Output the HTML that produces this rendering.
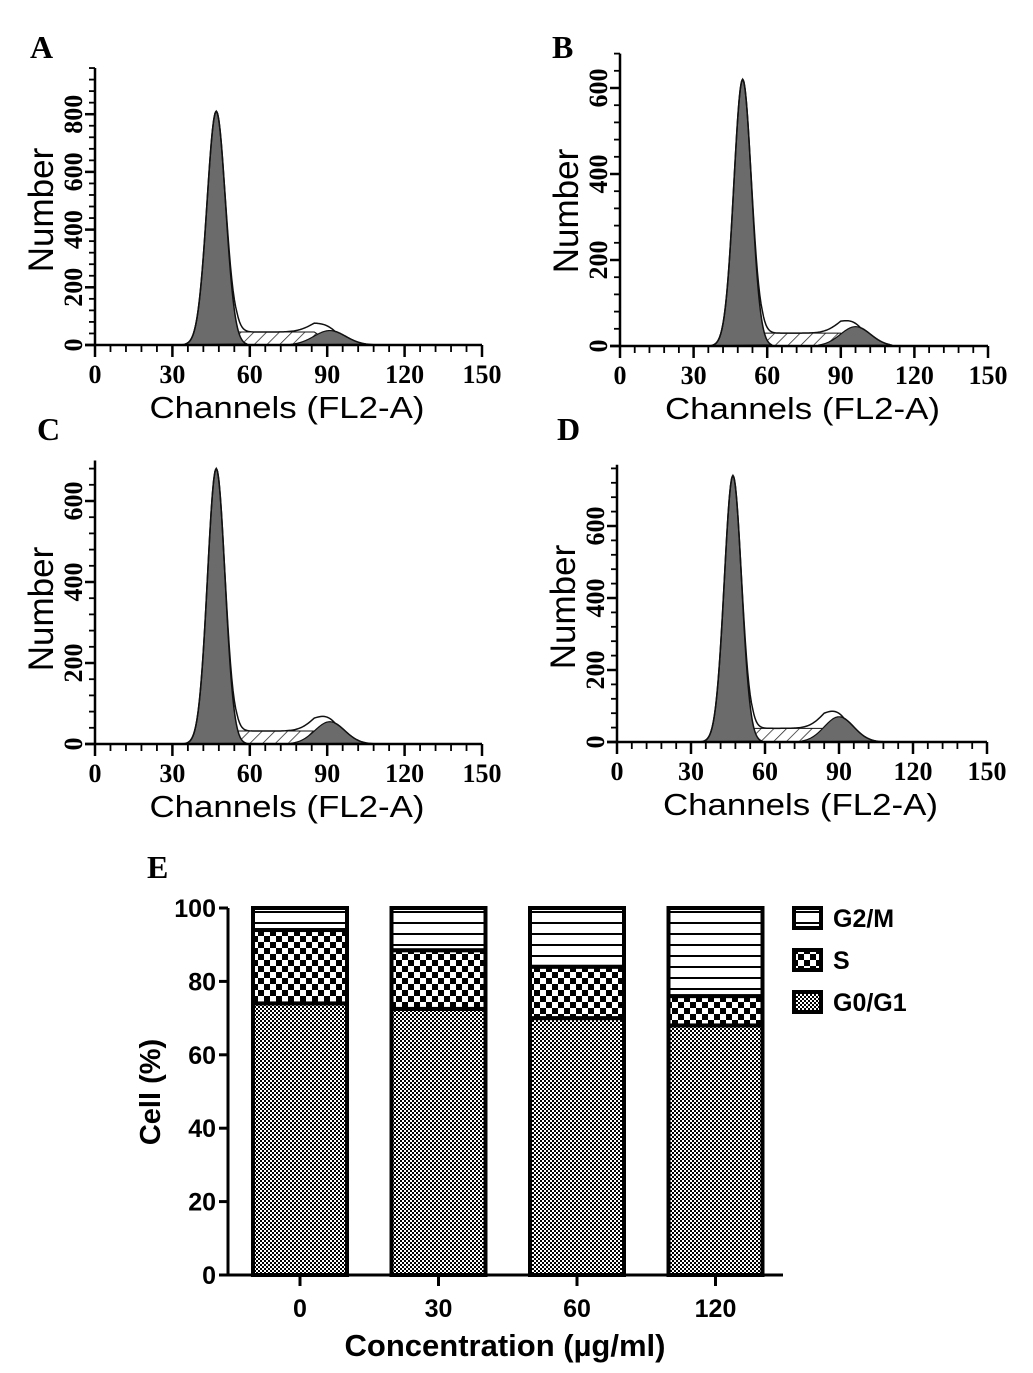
<!DOCTYPE html>
<html><head><meta charset="utf-8"><style>
body{margin:0;background:#fff;}
svg{display:block;}
.tl{font-family:"Liberation Serif",serif;font-weight:bold;font-size:26px;}
.ax{font-family:"Liberation Sans",sans-serif;font-size:31px;}
.num{font-family:"Liberation Sans",sans-serif;font-size:35px;}
.pl{font-family:"Liberation Serif",serif;font-weight:bold;font-size:32px;}
.eb{font-family:"Liberation Sans",sans-serif;font-weight:bold;}
</style></head><body>
<svg id="fig" width="1033" height="1373" viewBox="0 0 1033 1373" xmlns="http://www.w3.org/2000/svg">
<defs>
<pattern id="hatch" width="9" height="9" patternUnits="userSpaceOnUse" patternTransform="rotate(45)"><rect width="9" height="9" fill="#fff"/><line x1="0" y1="0" x2="0" y2="9" stroke="#222" stroke-width="1.5"/></pattern>
<pattern id="checkFine" width="4" height="4" patternUnits="userSpaceOnUse"><rect width="4" height="4" fill="#fff"/><rect width="2" height="2" fill="#000"/><rect x="2" y="2" width="2" height="2" fill="#000"/></pattern>
<pattern id="checkBig" width="12" height="12" patternUnits="userSpaceOnUse"><rect width="12" height="12" fill="#fff"/><rect width="6" height="6" fill="#000"/><rect x="6" y="6" width="6" height="6" fill="#000"/></pattern>
<pattern id="hlines" width="10" height="11" patternUnits="userSpaceOnUse"><rect width="10" height="11" fill="#fff"/><rect y="9" width="10" height="2" fill="#000"/></pattern>
</defs>
<g id="hist"></g>
<g id="bar"></g>
</svg>
<script>
// ---- Histogram data (panels A-D) ----
const panelNames = ["A","B","C","D"];
const g1Peak = [810, 620, 680, 740];
const g1Mean = [47, 50, 47, 47];
const g1Sd = [3.6, 3.6, 3.4, 3.5];
const g2Peak = [50, 45, 55, 70];
const g2Mean = [91, 96, 91, 90];
const sLevel = [45, 30, 32, 38];
const yTickValues = [[0,200,400,600,800],[0,200,400,600],[0,200,400,600],[0,200,400,600]];
const yMax = [960, 680, 700, 770];
const xTickValues = [0,30,60,90,120,150];

// layout (pixels)
const layout = [
 {x0:95,x1:482,base:345,pxPer200:57.7,lx:30,ly:58},
 {x0:620,x1:988,base:346,pxPer200:86,lx:552,ly:58},
 {x0:95,x1:482,base:744,pxPer200:81,lx:37,ly:440},
 {x0:617,x1:987,base:742,pxPer200:72,lx:557,ly:440}
];
const NS="http://www.w3.org/2000/svg";
function mk(tag,attrs,parent){const e=document.createElementNS(NS,tag);for(const k in attrs)e.setAttribute(k,attrs[k]);parent.appendChild(e);return e;}
const hist=document.getElementById('hist');
function gauss(x,m,s,h){return h*Math.exp(-0.5*((x-m)/s)**2);}
function sPhase(i,x){
  const a=g1Mean[i]+3, b=g2Mean[i]+2;
  if(x<a||x>b)return 0;
  const r=Math.min(1,(x-a)/5,(b-x)/8);
  return sLevel[i]*r;
}
panelNames.forEach((nm,i)=>{
  const L=layout[i];
  const g=mk('g',{},hist);
  
  
  const X=c=>L.x0+(c/150)*(L.x1-L.x0);
  const Y=v=>L.base-v/200*L.pxPer200;
  const sa=g1Mean[i]+3, sb=g2Mean[i]+2;
  let ds=`M${X(sa)},${Y(0)}`;
  for(let c=sa;c<=sb;c+=0.5)ds+=`L${X(c)},${Y(sPhase(i,c))}`;
  ds+=`L${X(sb)},${Y(0)}Z`;
  const sp=mk('path',{d:ds,fill:'url(#hatch)',stroke:'#111','stroke-width':1},g);
  
  
  let d1=`M${X(g1Mean[i]-12)},${Y(0)}`;
  for(let c=g1Mean[i]-12;c<=g1Mean[i]+12;c+=0.25)d1+=`L${X(c)},${Y(gauss(c,g1Mean[i],g1Sd[i],g1Peak[i]))}`;
  d1+='Z';
  const p1=mk('path',{d:d1,fill:'#6b6b6b',stroke:'#111','stroke-width':1.5},g);
  
  
  let d2=`M${X(g2Mean[i]-15)},${Y(0)}`;
  for(let c=g2Mean[i]-15;c<=g2Mean[i]+15;c+=0.25)d2+=`L${X(c)},${Y(gauss(c,g2Mean[i],g1Sd[i]*1.7,g2Peak[i]))}`;
  d2+='Z';
  const p2=mk('path',{d:d2,fill:'#6b6b6b',stroke:'#111','stroke-width':1.2},g);
  
  
  let de='';
  for(let c=34;c<=110;c+=0.5){
    const v=gauss(c,g1Mean[i],g1Sd[i],g1Peak[i])+gauss(c,g2Mean[i],g1Sd[i]*1.7,g2Peak[i])+sPhase(i,c);
    de+=(de?'L':'M')+X(c)+','+Y(v);
  }
  const pe=mk('path',{d:de,fill:'none',stroke:'#111','stroke-width':1.5},g);
  
  
  const top=Y(yMax[i]);
  const ya=mk('line',{x1:L.x0,y1:L.base,x2:L.x0,y2:top,stroke:'#000','stroke-width':2.5},g);
  
  
  const xa=mk('line',{x1:L.x0-10,y1:L.base,x2:L.x1,y2:L.base,stroke:'#000','stroke-width':2.5},g);
  
  
  for(let v=0;v<=yMax[i];v+=40){
    mk('line',{x1:L.x0-6,y1:Y(v),x2:L.x0,y2:Y(v),stroke:'#000','stroke-width':1.8},g);
  }
  yTickValues[i].forEach(v=>{
    mk('line',{x1:L.x0-10,y1:Y(v),x2:L.x0,y2:Y(v),stroke:'#000','stroke-width':2.5},g);
    const t=mk('text',{x:0,y:0,class:'tl','text-anchor':'middle',transform:`translate(${L.x0-13},${Y(v)}) rotate(-90)`},g);
    t.textContent=v;
    
    
  });
  for(let c=0;c<=150;c+=6){
    mk('line',{x1:X(c),y1:L.base,x2:X(c),y2:L.base+7,stroke:'#000','stroke-width':1.8},g);
  }
  xTickValues.forEach(c=>{
    mk('line',{x1:X(c),y1:L.base,x2:X(c),y2:L.base+12,stroke:'#000','stroke-width':2.5},g);
    const t=mk('text',{x:X(c),y:L.base+38,class:'tl','text-anchor':'middle'},g);
    t.textContent=c;
    
    
  });
  const cx=(L.x0+L.x1)/2+6;
  const xt=mk('text',{x:cx-145,y:L.base+73,class:'ax',textLength:275,lengthAdjust:'spacingAndGlyphs'},g);
  xt.textContent='Channels (FL2-A)';
  
  
  const yt=mk('text',{x:0,y:0,class:'num','text-anchor':'middle',transform:`translate(${L.x0-42},${L.base-135}) rotate(-90)`},g);
  yt.textContent='Number';
  
  
  const pl=mk('text',{x:L.lx,y:L.ly,class:'pl'},g);
  pl.textContent=nm;
  
  
});

// ---- Bar chart (panel E) ----
const concentrations = ["0","30","60","120"];
const g0g1 = [74, 72.5, 70, 68];
const sVals = [20, 16, 14, 8];
const g2m = [6, 11.5, 16, 24];
const barTicks = [0,20,40,60,80,100];
const bar=document.getElementById('bar');
const AX0=228, Y0=1275, Y100=908, XEND=783, BW=94, C0=300, CSTEP=138.5;
const BY=v=>Y0-(v/100)*(Y0-Y100);
const BX=i=>C0+i*CSTEP;
const fills=['url(#checkFine)','url(#checkBig)','url(#hlines)'];
const segNames=['g0-g1','s-phase','g2-m'];
concentrations.forEach((c,i)=>{
  const vals=[g0g1[i],sVals[i],g2m[i]];
  let acc=0;
  vals.forEach((v,k)=>{
    const r=mk('rect',{x:BX(i)-BW/2,y:BY(acc+v),width:BW,height:BY(acc)-BY(acc+v),fill:fills[k],stroke:'#000','stroke-width':4},bar);
    
    
    acc+=v;
  });
  mk('line',{x1:BX(i),y1:Y0,x2:BX(i),y2:Y0+11,stroke:'#000','stroke-width':3},bar);
  const t=mk('text',{x:BX(i),y:Y0+42,class:'eb','font-size':'25','text-anchor':'middle'},bar);
  t.textContent=c;
  
  
});
const bya=mk('line',{x1:AX0,y1:Y0+1.5,x2:AX0,y2:Y100,stroke:'#000','stroke-width':3},bar);


const bxa=mk('line',{x1:AX0-1.5,y1:Y0,x2:XEND,y2:Y0,stroke:'#000','stroke-width':3},bar);


barTicks.forEach(v=>{
  mk('line',{x1:AX0-9,y1:BY(v),x2:AX0,y2:BY(v),stroke:'#000','stroke-width':3},bar);
  const t=mk('text',{x:AX0-12,y:BY(v)+9,class:'eb','font-size':'25','text-anchor':'end'},bar);
  t.textContent=v;
  
  
});
const eyt=mk('text',{x:0,y:0,class:'eb','font-size':'29','text-anchor':'middle',transform:`translate(${160},${1092}) rotate(-90)`},bar);
eyt.textContent='Cell (%)';


const ext=mk('text',{x:505,y:1356,class:'eb','font-size':'31','text-anchor':'middle'},bar);
ext.textContent='Concentration (µg/ml)';


const el=mk('text',{x:147,y:878,class:'pl'},bar);
el.textContent='E';


const legendNames=['G2/M','S','G0/G1'];
const legendFills=['url(#hlines)','url(#checkBig)','url(#checkFine)'];
const legendY=[918,960,1002];
legendNames.forEach((n,k)=>{
  const r=mk('rect',{x:794,y:legendY[k]-10,width:27,height:20,fill:legendFills[k],stroke:'#000','stroke-width':4},bar);
  
  
  const t=mk('text',{x:833,y:legendY[k]+9,class:'eb','font-size':'25'},bar);
  t.textContent=n;
  
  
});
</script>
</body></html>
